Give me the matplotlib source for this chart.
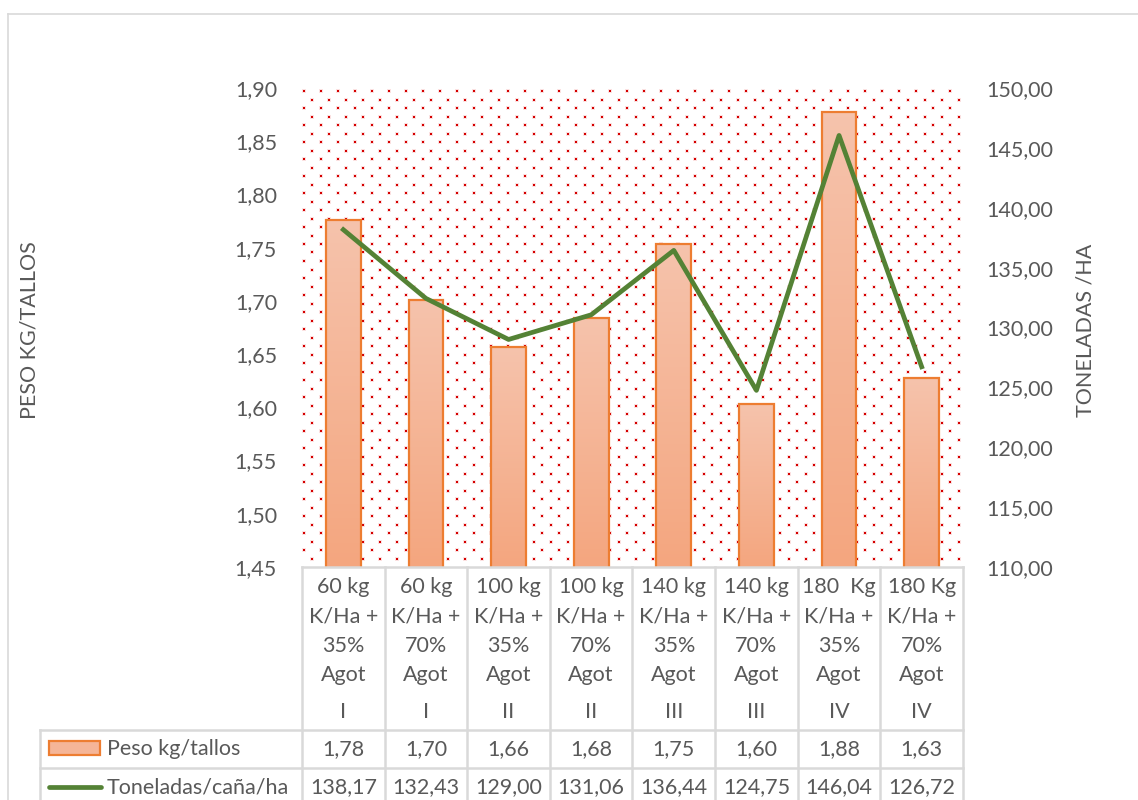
import numpy as np
import matplotlib
matplotlib.use('Agg')
import matplotlib.pyplot as plt
from matplotlib.transforms import blended_transform_factory
from matplotlib.lines import Line2D
from matplotlib.patches import Rectangle

plt.rcParams['font.family'] = ['Lato', 'DejaVu Sans']

# Datos del ensayo
tratamientos = ['60 kg\nK/Ha +\n35%\nAgot', '60 kg\nK/Ha +\n70%\nAgot',
                '100 kg\nK/Ha +\n35%\nAgot', '100 kg\nK/Ha +\n70%\nAgot',
                '140 kg\nK/Ha +\n35%\nAgot', '140 kg\nK/Ha +\n70%\nAgot',
                '180  Kg\nK/Ha +\n35%\nAgot', '180 Kg\nK/Ha +\n70%\nAgot']
bloques = ['I', 'I', 'II', 'II', 'III', 'III', 'IV', 'IV']
peso = [1.776, 1.701, 1.657, 1.684, 1.753, 1.603, 1.877, 1.628]
toneladas = [138.17, 132.43, 129.00, 131.06, 136.44, 124.75, 146.04, 126.72]

W, H = 1138, 800
GRIS = '#595959'
LINEA = '#d9d9d9'
NARANJA = '#ed7d31'
VERDE = '#548235'
FS = 15.5


def coma(v):
    return f'{v:.2f}'.replace('.', ',')


def fx(x):
    return x / W


def fy(y):
    return 1 - y / H


fig = plt.figure(figsize=(W / 100, H / 100), dpi=100)

# borde exterior del grafico
fig.add_artist(Line2D([fx(8), fx(8)], [fy(14), 0], color=LINEA, lw=1.2))
fig.add_artist(Line2D([fx(8), 1], [fy(14), fy(14)], color=LINEA, lw=1.2))

x0, x1, y0, y1 = 302, 963, 88, 567
ax = fig.add_axes([fx(x0), fy(y1), fx(x1 - x0), (y1 - y0) / H])
ax2 = ax.twinx()

n = len(peso)
x = np.arange(n)
ax.set_xlim(-0.5, n - 0.5)
ax.set_ylim(1.45, 1.90)
ax2.set_ylim(110, 150)

# fondo punteado rojo
pw, ph = x1 - x0, y1 - y0
px, py = [], []
fila = 0
yy = 3.0
while yy < ph:
    xx = 2.0 if fila % 2 == 0 else 10.5
    while xx < pw:
        px.append(xx / pw)
        py.append(1 - yy / ph)
        xx += 17
    yy += 8.5
    fila += 1
ax.scatter(px, py, s=7, color='#fbe0e0', marker='s', linewidths=0,
           transform=ax.transAxes, zorder=0)
ax.scatter(px, py, s=4, color='#d40000', marker='s', linewidths=0,
           transform=ax.transAxes, zorder=0)

# barras con degradado
ancho = 0.42
grad = np.linspace(0, 1, 100).reshape(-1, 1)
cmap = matplotlib.colors.LinearSegmentedColormap.from_list('g', ['#f4a67f', '#f6c3ac'])
barras = ax.bar(x, peso, width=ancho, color='none', edgecolor=NARANJA, lw=1.6, zorder=3)
for b, v in zip(barras, peso):
    im = ax.imshow(grad, extent=[b.get_x(), b.get_x() + ancho, 1.45, v], origin='lower',
                   cmap=cmap, aspect='auto', zorder=2)
    im.set_clip_path(b)

ax2.plot(x, toneladas, color=VERDE, lw=3.4, solid_joinstyle='round', zorder=4)

for a in (ax, ax2):
    for s in a.spines.values():
        s.set_visible(False)
    a.tick_params(length=0, labelsize=FS, labelcolor=GRIS)
ax.set_xticks([])
ax.set_yticks(np.arange(1.45, 1.901, 0.05))
ax.set_yticklabels([coma(v) for v in np.arange(1.45, 1.901, 0.05)])
ax.tick_params(axis='y', pad=18)
ax2.set_yticks(np.arange(110, 151, 5))
ax2.set_yticklabels([coma(v) for v in np.arange(110, 151, 5)])
ax2.tick_params(axis='y', pad=17)

fig.text(fx(30), fy(330), 'PESO KG/TALLOS', rotation=90, ha='center', va='center',
         fontsize=FS, color=GRIS)
fig.text(fx(1086), fy(330), 'TONELADAS /HA', rotation=90, ha='center', va='center',
         fontsize=FS, color=GRIS)

# tabla de datos bajo el eje
tr = blended_transform_factory(ax.transData, fig.transFigure)
for i in range(n + 1):
    fig.add_artist(Line2D([i - 0.5, i - 0.5], [fy(567), 0], color=LINEA, lw=1.8,
                          transform=tr))
fig.add_artist(Line2D([-0.5, n - 0.5], [fy(567), fy(567)], color=LINEA, lw=1.8, transform=tr))
for yl in (730, 768):
    fig.add_artist(Line2D([fx(40), fx(x1)], [fy(yl), fy(yl)], color=LINEA, lw=1.8))
fig.add_artist(Line2D([fx(40), fx(40)], [fy(730), 0], color=LINEA, lw=1.8))

for i in range(n):
    fig.text(i, fy(631), tratamientos[i], transform=tr, ha='center', va='center',
             fontsize=FS, color=GRIS, linespacing=1.57)
    fig.text(i, fy(712), bloques[i], transform=tr, ha='center', va='center',
             fontsize=FS, color=GRIS)
    fig.text(i, fy(749), coma(peso[i]), transform=tr, ha='center', va='center',
             fontsize=FS, color=GRIS)
    fig.text(i, fy(787), coma(toneladas[i]), transform=tr, ha='center', va='center',
             fontsize=FS, color=GRIS)

# claves de la leyenda en la tabla
fig.add_artist(Rectangle((fx(49), fy(755)), fx(51), 14 / H, facecolor='#f5b597',
                         edgecolor=NARANJA, lw=1.6))
fig.add_artist(Line2D([fx(49), fx(101)], [fy(787), fy(787)], color=VERDE, lw=3.4,
                      solid_capstyle='round'))
fig.text(fx(107), fy(749), 'Peso kg/tallos', ha='left', va='center', fontsize=FS, color=GRIS)
fig.text(fx(107), fy(787), 'Toneladas/caña/ha', ha='left', va='center', fontsize=FS, color=GRIS)

fig.savefig('out.png', dpi=100)
